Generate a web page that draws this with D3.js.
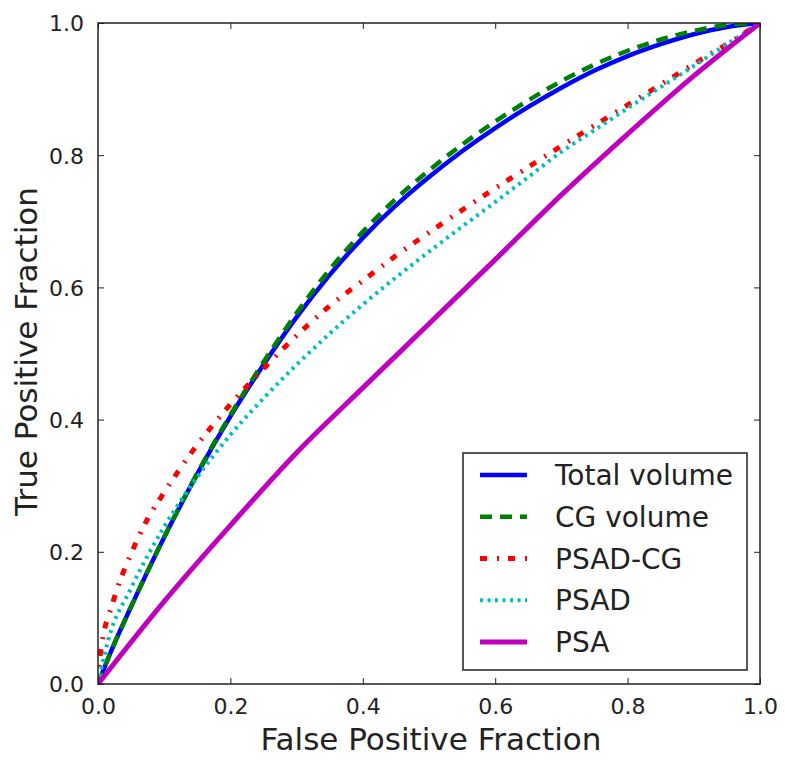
<!DOCTYPE html>
<html>
<head>
<meta charset="utf-8">
<script src="https://cdn.jsdelivr.net/npm/d3@7"></script>
<style>
  html, body { margin: 0; padding: 0; background: #fff; }
  svg { display: block; font-family: "DejaVu Sans", sans-serif; }
</style>
</head>
<body>
<svg id="chart" width="785" height="760"></svg>
<script>
// ---- data ----
const seriesNames = ["Total volume", "CG volume", "PSAD-CG", "PSAD", "PSA"];

const totalVolumeFPR = [0, 0.02, 0.05, 0.1, 0.15, 0.2, 0.25, 0.3, 0.35, 0.4, 0.45, 0.5, 0.55, 0.6, 0.65, 0.7, 0.75, 0.8, 0.85, 0.9, 0.95, 1];
const totalVolumeTPR = [0, 0.05, 0.117, 0.222, 0.318, 0.405, 0.483, 0.555, 0.619, 0.675, 0.724, 0.767, 0.806, 0.841, 0.873, 0.902, 0.928, 0.95, 0.968, 0.983, 0.994, 1];

const cgVolumeFPR = [0, 0.02, 0.05, 0.1, 0.15, 0.2, 0.25, 0.3, 0.35, 0.4, 0.45, 0.5, 0.55, 0.6, 0.65, 0.7, 0.75, 0.8, 0.85, 0.9, 0.95, 1];
const cgVolumeTPR = [0, 0.05, 0.117, 0.222, 0.319, 0.407, 0.487, 0.561, 0.627, 0.684, 0.734, 0.777, 0.816, 0.851, 0.883, 0.912, 0.937, 0.958, 0.975, 0.988, 0.997, 1];

const psadCgFPR = [0, 0.003, 0.023, 0.05, 0.075, 0.1, 0.15, 0.2, 0.25, 0.3, 0.35, 0.4, 0.45, 0.5, 0.55, 0.6, 0.65, 0.7, 0.75, 0.8, 0.85, 0.9, 0.95, 1];
const psadCgTPR = [0, 0.04, 0.125, 0.197, 0.25, 0.29, 0.362, 0.423, 0.477, 0.527, 0.572, 0.61, 0.648, 0.683, 0.717, 0.75, 0.782, 0.814, 0.845, 0.876, 0.907, 0.938, 0.968, 1];

const psadFPR = [0, 0.015, 0.05, 0.1, 0.15, 0.2, 0.25, 0.3, 0.35, 0.4, 0.45, 0.5, 0.55, 0.6, 0.65, 0.7, 0.75, 0.8, 0.85, 0.9, 0.95, 1];
const psadTPR = [0, 0.065, 0.145, 0.238, 0.313, 0.377, 0.432, 0.483, 0.53, 0.574, 0.615, 0.654, 0.692, 0.729, 0.767, 0.805, 0.838, 0.871, 0.903, 0.935, 0.968, 1];

const psaFPR = [0, 0.1, 0.2, 0.3, 0.4, 0.5, 0.6, 0.7, 0.8, 0.9, 1];
const psaTPR = [0, 0.125, 0.24, 0.35, 0.448, 0.545, 0.642, 0.74, 0.832, 0.92, 1];

const xTicks = [0.0, 0.2, 0.4, 0.6, 0.8, 1.0];
const yTicks = [0.0, 0.2, 0.4, 0.6, 0.8, 1.0];
const xTitle = "False Positive Fraction";
const yTitle = "True Positive Fraction";

// ---- build ----
const series = [
  { name: seriesNames[0], xs: totalVolumeFPR, ys: totalVolumeTPR, color: "#0000ff", width: 4.5, dash: null },
  { name: seriesNames[1], xs: cgVolumeFPR,    ys: cgVolumeTPR,    color: "#008000", width: 4.5, dash: "12,8" },
  { name: seriesNames[2], xs: psadCgFPR,      ys: psadCgTPR,      color: "#ff0000", width: 5,   dash: "7,10,2,9" },
  { name: seriesNames[3], xs: psadFPR,        ys: psadTPR,        color: "#00bfbf", width: 4,   dash: "3,4.5" },
  { name: seriesNames[4], xs: psaFPR,         ys: psaTPR,         color: "#bf00bf", width: 5,   dash: null }
];

const svg = d3.select("#chart");
const L = 98, R = 760, T = 23, B = 684;

const x = d3.scaleLinear().domain([0, 1]).range([L, R]);
const y = d3.scaleLinear().domain([0, 1]).range([B, T]);

svg.append("defs").append("clipPath").attr("id", "clip")
  .append("rect").attr("x", L).attr("y", T).attr("width", R - L).attr("height", B - T);

const line = d3.line().x(d => x(d[0])).y(d => y(d[1])).curve(d3.curveMonotoneX);

const g = svg.append("g").attr("clip-path", "url(#clip)");
series.forEach(s => {
  const pts = s.xs.map((v, i) => [v, s.ys[i]]);
  g.append("path")
    .attr("d", line(pts))
    .attr("fill", "none")
    .attr("stroke", s.color)
    .attr("stroke-width", s.width)
    .attr("stroke-dasharray", s.dash)
    .attr("stroke-linejoin", "round");
});

// axes (ticks inward, all four sides)
const tickLen = 6;
const fmt = d3.format(".1f");
const axB = svg.append("g").attr("transform", `translate(0,${B})`)
  .call(d3.axisBottom(x).tickValues(xTicks).tickFormat(fmt).tickSizeInner(-tickLen).tickSizeOuter(0).tickPadding(14));
const axT = svg.append("g").attr("transform", `translate(0,${T})`)
  .call(d3.axisTop(x).tickValues(xTicks).tickFormat("").tickSizeInner(-tickLen).tickSizeOuter(0));
const axL = svg.append("g").attr("transform", `translate(${L},0)`)
  .call(d3.axisLeft(y).tickValues(yTicks).tickFormat(fmt).tickSizeInner(-tickLen).tickSizeOuter(0).tickPadding(14));
const axR = svg.append("g").attr("transform", `translate(${R},0)`)
  .call(d3.axisRight(y).tickValues(yTicks).tickFormat("").tickSizeInner(-tickLen).tickSizeOuter(0));

[axB, axT, axL, axR].forEach(a => {
  a.select(".domain").remove();
  a.selectAll(".tick line").attr("stroke", "#222").attr("stroke-width", 1);
  a.selectAll("text").attr("font-size", 22).attr("fill", "#222").attr("font-family", "DejaVu Sans, sans-serif");
});
axL.selectAll("text").attr("dy", "0.36em");

// frame
svg.append("rect").attr("x", L).attr("y", T).attr("width", R - L).attr("height", B - T)
  .attr("fill", "none").attr("stroke", "#222").attr("stroke-width", 1.5);

// titles
svg.append("text").attr("x", (L + R) / 2 + 2).attr("y", 750).attr("text-anchor", "middle")
  .attr("font-size", 31).attr("fill", "#222").text(xTitle);
svg.append("text").attr("transform", `translate(37,${(T + B) / 2 - 2}) rotate(-90)`).attr("text-anchor", "middle")
  .attr("font-size", 31).attr("fill", "#222").text(yTitle);

// legend
const lg = svg.append("g");
lg.append("rect").attr("x", 463).attr("y", 453).attr("width", 284).attr("height", 217)
  .attr("fill", "#fff").attr("stroke", "#222").attr("stroke-width", 1.5);
const rowY = d3.scalePoint().domain(seriesNames).range([475, 642]);
series.forEach(s => {
  const yy = rowY(s.name);
  lg.append("line").attr("x1", 480).attr("x2", 527).attr("y1", yy).attr("y2", yy)
    .attr("stroke", s.color).attr("stroke-width", s.width).attr("stroke-dasharray", s.dash);
  lg.append("text").attr("x", 555).attr("y", yy).attr("dy", "0.36em")
    .attr("font-size", 28).attr("fill", "#222").text(s.name);
});
</script>
</body>
</html>
